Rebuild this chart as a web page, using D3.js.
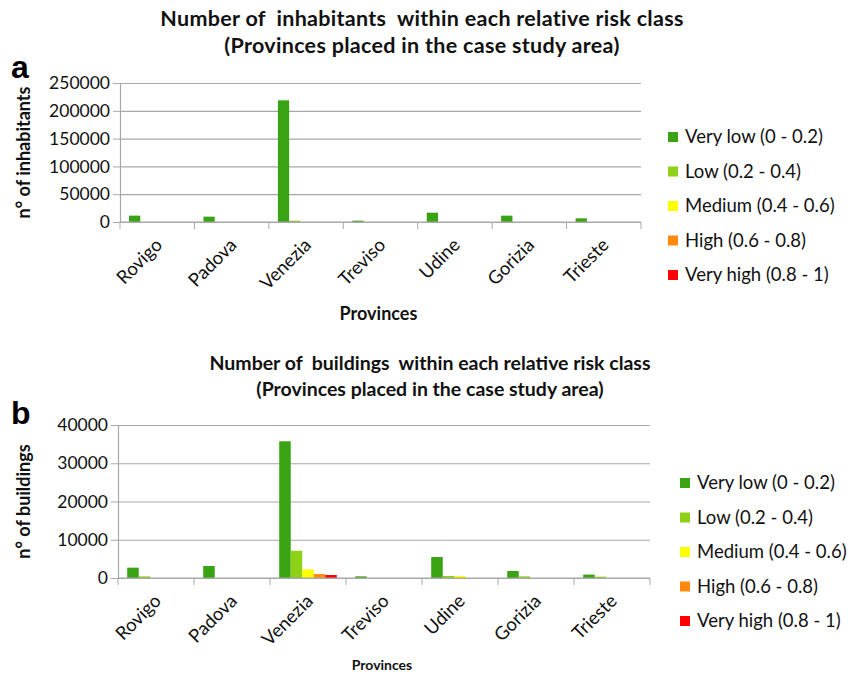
<!DOCTYPE html>
<html>
<head>
<meta charset="utf-8">
<script src="https://cdn.jsdelivr.net/npm/d3@7"></script>
<style>
  body { margin: 0; background: #fff; }
  svg { display: block; }
</style>
</head>
<body>
<div id="chart"></div>
<script>
// categories and classes
const provinces = ["Rovigo", "Padova", "Venezia", "Treviso", "Udine", "Gorizia", "Trieste"];
const riskClasses = ["Very low (0 - 0.2)", "Low (0.2 - 0.4)", "Medium (0.4 - 0.6)", "High (0.6 - 0.8)", "Very high (0.8 - 1)"];
const classColors = ["#3aa313", "#8fd117", "#ffff00", "#ff8a0d", "#ff0000"];

// panel a - inhabitants, one array per risk class
const inhabVeryLow  = [11400, 9600, 218800, 2400, 16800, 11400, 6600];
const inhabLow      = [0, 0, 2400, 0, 0, 0, 0];
const inhabMedium   = [0, 0, 0, 0, 0, 0, 0];
const inhabHigh     = [0, 0, 0, 0, 0, 0, 0];
const inhabVeryHigh = [0, 0, 0, 0, 0, 0, 0];
const inhabTicks = [0, 50000, 100000, 150000, 200000, 250000];

// panel b - buildings
const buildVeryLow  = [2700, 3130, 35740, 430, 5480, 1830, 900];
const buildLow      = [430, 0, 7130, 0, 520, 430, 350];
const buildMedium   = [0, 0, 2260, 0, 520, 0, 0];
const buildHigh     = [0, 0, 1040, 0, 0, 0, 0];
const buildVeryHigh = [0, 0, 780, 0, 0, 0, 0];
const buildTicks = [0, 10000, 20000, 30000, 40000];

const width = 861, height = 680;
const svg = d3.select("#chart").append("svg")
    .attr("width", width)
    .attr("height", height)
    .attr("font-family", "Lato, 'Open Sans', sans-serif");

function drawPanel(p) {
  const series = p.values;
  const x0 = d3.scaleBand().domain(provinces).range([p.left, p.right]);
  const x1 = d3.scaleBand().domain(d3.range(riskClasses.length))
      .range([0, x0.bandwidth()]).paddingOuter(0.8);
  const y = d3.scaleLinear().domain([0, d3.max(p.ticks)]).range([p.bottom, p.top]);

  // titles
  const t = svg.append("text")
      .attr("text-anchor", "middle")
      .attr("font-weight", "bold")
      .attr("font-size", p.titleSize)
      .attr("letter-spacing", p.titleSpacing)
      .attr("fill", "#111")
      .style("white-space", "pre");
  t.append("tspan").attr("x", p.titleX).attr("y", p.titleY).text(p.title1);
  t.append("tspan").attr("x", p.titleX).attr("y", p.titleY + p.titleGap).text(p.title2);

  svg.append("text")
      .attr("x", p.letterX).attr("y", p.letterY)
      .attr("font-family", "'Liberation Sans', Arial, sans-serif")
      .attr("font-weight", "bold")
      .attr("font-size", 32)
      .text(p.letter);

  // gridlines
  svg.append("g")
      .attr("transform", `translate(${p.left},0)`)
      .call(d3.axisLeft(y).tickValues(p.ticks).tickSize(-(p.right - p.left)).tickFormat(""))
      .call(g => g.select(".domain").remove())
      .call(g => g.selectAll(".tick line").attr("stroke", "#a8a8a8").attr("stroke-width", 1.2));

  // y axis
  svg.append("g")
      .attr("transform", `translate(${p.left},0)`)
      .call(d3.axisLeft(y).tickValues(p.ticks).tickSize(7).tickSizeOuter(0).tickFormat(d3.format("d")))
      .call(g => g.select(".domain").attr("stroke", "#a8a8a8").attr("stroke-width", 1.2))
      .call(g => g.selectAll(".tick line").attr("stroke", "#a8a8a8"))
      .call(g => g.selectAll(".tick text")
          .attr("font-size", 17.5)
          .attr("fill", "#111")
          .attr("font-family", "Lato, sans-serif")
          .attr("x", -10));

  // bars
  svg.append("g")
    .selectAll("g")
    .data(provinces)
    .join("g")
      .attr("transform", d => `translate(${x0(d)},0)`)
    .selectAll("rect")
    .data((d, i) => series.map((s, k) => ({ k, v: s[i] })))
    .join("rect")
      .attr("x", d => x1(d.k))
      .attr("width", x1.bandwidth())
      .attr("y", d => y(d.v))
      .attr("height", d => y(0) - y(d.v))
      .attr("fill", d => classColors[d.k]);

  // x axis line and category boundary ticks
  const xa = svg.append("g").attr("transform", `translate(0,${p.bottom})`);
  xa.append("line")
      .attr("x1", p.left).attr("x2", p.right)
      .attr("stroke", "#a8a8a8").attr("stroke-width", 1.2);
  xa.selectAll(".bt")
    .data(provinces.map(d => x0(d)).concat([x0.range()[1]]))
    .join("line")
      .attr("x1", d => d).attr("x2", d => d)
      .attr("y1", 0).attr("y2", 7)
      .attr("stroke", "#a8a8a8");
  xa.selectAll(".lbl")
    .data(provinces)
    .join("text")
      .attr("transform", d => `translate(${x0(d) + x0.bandwidth() / 2 - 3},15) rotate(-45)`)
      .attr("text-anchor", "end")
      .attr("dy", "0.7em")
      .attr("font-size", 18.5)
      .attr("fill", "#111")
      .text(d => d);

  // axis titles
  svg.append("text")
      .attr("x", (p.left + p.right) / 2 - 2)
      .attr("y", p.xTitleY)
      .attr("text-anchor", "middle")
      .attr("font-weight", "bold")
      .attr("font-size", p.xTitleSize)
      .attr("fill", "#111")
      .text("Provinces");

  svg.append("text")
      .attr("transform", `translate(${p.yTitleX},${(p.top + p.bottom) / 2}) rotate(-90)`)
      .attr("text-anchor", "middle")
      .attr("font-weight", "bold")
      .attr("font-size", 18)
      .attr("fill", "#111")
      .text(p.yTitle);

  // legend
  const lg = svg.append("g")
    .selectAll("g")
    .data(riskClasses)
    .join("g")
      .attr("transform", (d, i) => `translate(${p.legendX},${p.legendY + i * p.legendStep})`);
  lg.append("rect")
      .attr("x", 0).attr("y", -5)
      .attr("width", 10).attr("height", 10)
      .attr("fill", (d, i) => classColors[i]);
  lg.append("text")
      .attr("x", 17)
      .attr("dy", "0.35em")
      .attr("font-size", 18.5)
      .attr("fill", "#111")
      .text(d => d);
}

drawPanel({
  letter: "a", letterX: 11, letterY: 78,
  title1: "Number of  inhabitants  within each relative risk class",
  title2: "(Provinces placed in the case study area)",
  titleX: 422, titleY: 26, titleGap: 27, titleSize: 21.5, titleSpacing: 0.3,
  values: [inhabVeryLow, inhabLow, inhabMedium, inhabHigh, inhabVeryHigh],
  ticks: inhabTicks,
  left: 120, right: 641, top: 83, bottom: 222,
  xTitleY: 320, xTitleSize: 18,
  yTitle: "n° of inhabitants", yTitleX: 30,
  legendX: 668, legendY: 137, legendStep: 34.5
});

drawPanel({
  letter: "b", letterX: 11, letterY: 424,
  title1: "Number of  buildings  within each relative risk class",
  title2: "(Provinces placed in the case study area)",
  titleX: 430, titleY: 370, titleGap: 26, titleSize: 19.5, titleSpacing: 0,
  values: [buildVeryLow, buildLow, buildMedium, buildHigh, buildVeryHigh],
  ticks: buildTicks,
  left: 118, right: 650, top: 425, bottom: 578,
  xTitleY: 670, xTitleSize: 14,
  yTitle: "n° of buildings", yTitleX: 30,
  legendX: 680, legendY: 483, legendStep: 34.5
});
</script>
</body>
</html>
